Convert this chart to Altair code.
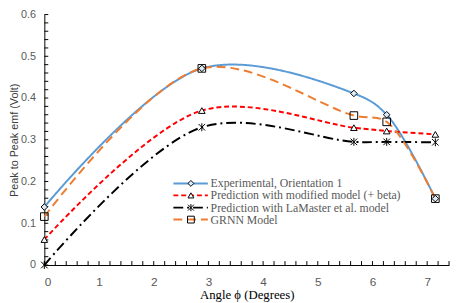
import altair as alt
import pandas as pd

# ---- data ----
angle = [0, 2.88, 5.66, 6.26, 7.15]
experimental = [0.139, 0.471, 0.411, 0.360, 0.159]
modified = [0.061, 0.370, 0.329, 0.321, 0.313]
lamaster = [0.0, 0.330, 0.295, 0.295, 0.294]
grnn = [0.116, 0.471, 0.358, 0.343, 0.159]

names = [
    "Experimental, Orientation 1",
    "Prediction with  modified model (+ beta)",
    "Prediction with LaMaster et al. model",
    "GRNN Model",
]
series = [experimental, modified, lamaster, grnn]

x_major = [0, 1, 2, 3, 4, 5, 6, 7]
x_minor = [round(i * 0.2, 1) for i in range(38)]
y_major = [0, 0.1, 0.2, 0.3, 0.4, 0.5, 0.6]
y_minor = [round(i * 0.02, 2) for i in range(31)]

# legend placement (data units)
leg_x0, leg_x1, leg_xm, leg_xt = 2.36, 2.99, 2.68, 3.04
leg_y = [0.1955, 0.1668, 0.1375, 0.1088]

SERIF = "Liberation Serif, Times New Roman, serif"
SANS = "Liberation Sans, Arial, sans-serif"

ASTER = "M-1,-1L1,1M-1,1L1,-1M0,-1.2L0,1.2"
styles = [
    dict(color="#5B9BD5", dash=[1, 0], shape="diamond", fill="#DEEBF7", filled=True, size=45),
    dict(color="#FF0000", dash=[5, 3], shape="triangle-up", fill="white", filled=True, size=45),
    dict(color="#000000", dash=[10, 4, 2, 4], shape=ASTER, fill="black", filled=False, size=45),
    dict(color="#ED7D31", dash=[9, 5], shape="square", fill="none", filled=False, size=60),
]

xscale = alt.Scale(domain=[0, 7.4], nice=False, zero=False)
yscale = alt.Scale(domain=[0, 0.6], nice=False)
xaxis = alt.Axis(values=x_major, title="Angle ϕ (Degrees)", labelPadding=12,
                 titleFont=SERIF, titleFontSize=13, titleColor="black", titlePadding=1)
yaxis = alt.Axis(values=y_major, title="Peak to Peak emf (Volt)", labelPadding=9,
                 labelExpr="datum.value == 0 ? '0' : format(datum.value, '.1f')",
                 titleFont=SANS, titleFontSize=11, titleColor="#404040", titlePadding=1)

X = alt.X("x:Q", scale=xscale, axis=xaxis)
Y = alt.Y("y:Q", scale=yscale, axis=yaxis)

layers = []
# minor / major ticks inside the plot
xt = pd.DataFrame({"x": x_minor})
layers.append(alt.Chart(xt).mark_rule(color="black", strokeWidth=1).encode(
    x=X, y=alt.value(255), y2=alt.value(251)))
yt = pd.DataFrame({"y": y_minor})
layers.append(alt.Chart(yt).mark_rule(color="black", strokeWidth=1).encode(
    y=Y, x=alt.value(0), x2=alt.value(4)))

for name, vals, st in zip(names, series, styles):
    df = pd.DataFrame({"x": angle, "y": vals})
    layers.append(alt.Chart(df).mark_line(
        color=st["color"], strokeDash=st["dash"], strokeWidth=2,
        interpolate="catmull-rom").encode(x=X, y=Y))
for name, vals, st in zip(names, series, styles):
    df = pd.DataFrame({"x": angle, "y": vals})
    layers.append(alt.Chart(df).mark_point(
        shape=st["shape"], filled=st["filled"], fill=st["fill"], stroke="black",
        strokeWidth=1, size=st["size"], opacity=1).encode(x=X, y=Y))

# legend
for name, ly, st in zip(names, leg_y, styles):
    ld = pd.DataFrame({"x": [leg_x0], "x2": [leg_x1], "y": [ly], "xm": [leg_xm], "xt": [leg_xt], "label": [name]})
    layers.append(alt.Chart(ld).mark_rule(
        color=st["color"], strokeDash=st["dash"], strokeWidth=2).encode(
        x=X, x2="x2:Q", y=Y))
    layers.append(alt.Chart(ld).mark_point(
        shape=st["shape"], filled=st["filled"], fill=st["fill"], stroke="black",
        strokeWidth=1, size=st["size"] * 0.8, opacity=1).encode(
        x=alt.X("xm:Q", scale=xscale, axis=xaxis), y=Y))
    layers.append(alt.Chart(ld).mark_text(
        align="left", baseline="middle", font=SERIF, fontSize=12,
        color="#595959").encode(
        x=alt.X("xt:Q", scale=xscale, axis=xaxis), y=Y, text="label:N"))

chart = alt.layer(*layers).properties(
    width=412, height=255,
    autosize=alt.AutoSizeParams(type="none"),
    padding={"left": 37, "top": 4, "right": 2, "bottom": 36},
    background="white",
).configure_view(stroke=None).configure_axis(
    grid=False, ticks=False, domainColor="black", domainWidth=1,
    labelColor="#595959", labelFont=SANS, labelFontSize=12,
    titleFontWeight="normal",
).configure_axisY(labelFontSize=11)

chart.save("out.html", embed_options={"renderer": "svg", "actions": False})
